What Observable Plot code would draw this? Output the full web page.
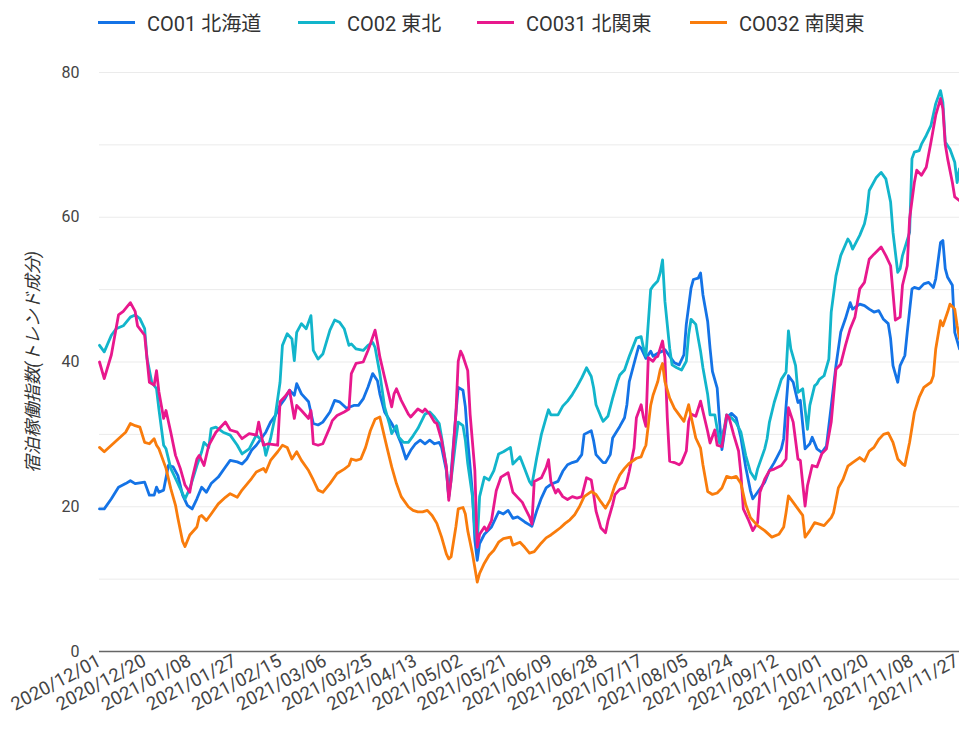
<!DOCTYPE html>
<html><head><meta charset="utf-8">
<script src="https://cdn.jsdelivr.net/npm/d3@7"></script>
<script src="https://cdn.jsdelivr.net/npm/@observablehq/plot@0.6"></script>
<style>
body{margin:0;background:#fff;font-family:Roboto,"Noto Sans CJK JP",sans-serif;}
#legend{position:relative;height:40px;width:959px;}
.item{position:absolute;top:9px;height:26px;display:flex;align-items:center;font-size:20px;color:#333;white-space:nowrap;}
.sw{width:37px;height:3px;margin-right:12px;}
#chart svg g[aria-label="y-axis label"] text{font-style:italic;fill:#333;font-size:17.5px;}
</style>
</head><body>
<div id="legend"></div>
<div id="chart"></div>
<script>
// Series names, colours
const seriesNames = ["CO01 北海道", "CO02 東北", "CO031 北関東", "CO032 南関東"];
const seriesColors = ["#1473e6", "#12b5cb", "#e8188d", "#f97c0c"];
const legendLeft = [98, 298, 477, 690];

// [days since 2020-12-01, value]
const co01 = [[0,19.7],[2,19.7],[5,21.1],[8,22.7],[11,23.2],[13,23.6],[15,23.2],[19,23.4],[21,21.6],[23,21.6],[24,22.7],[25,22.0],[27,22.3],[29,25.7],[31,25.5],[33,24.3],[35,21.6],[37,20.2],[39,19.7],[41,21.1],[43,22.7],[45,22.0],[47,23.2],[50,24.1],[53,25.5],[55,26.4],[58,26.2],[60,25.9],[62,26.6],[64,27.8],[66,28.5],[68,29.4],[70,30.3],[72,31.7],[74,32.6],[76,34.0],[78,34.9],[80,36.1],[82,35.4],[83,37.0],[85,35.6],[88,34.5],[90,31.5],[92,31.3],[94,31.7],[97,33.1],[99,34.7],[101,34.5],[104,33.6],[107,34.0],[109,34.0],[111,34.9],[113,36.5],[115,38.4],[117,37.4],[118,35.6],[120,33.1],[123,31.5],[125,30.3],[127,28.7],[129,26.6],[131,27.8],[133,28.7],[135,29.2],[137,28.7],[139,29.2],[141,28.7],[143,28.9],[144,28.2],[146,25.0],[147,21.4],[148,24.6],[150,32.8],[151,36.5],[153,36.1],[154,33.8],[155,29.2],[157,21.8],[158,15.4],[159,12.6],[160,14.9],[162,16.2],[165,17.2],[167,18.6],[168,19.3],[170,19.0],[172,19.5],[174,18.4],[176,18.6],[179,17.9],[181,17.5],[182,17.3],[184,19.4],[186,21.2],[188,22.6],[190,23.1],[193,23.5],[195,24.9],[197,25.8],[199,26.1],[201,26.3],[203,27.2],[204,30.0],[207,30.5],[208,29.1],[209,27.2],[212,26.1],[213,26.1],[215,27.2],[216,29.5],[219,31.1],[221,32.3],[222,34.1],[223,37.3],[226,41.0],[227,42.2],[228,41.9],[230,40.5],[232,41.5],[233,40.8],[235,41.2],[237,41.5],[238,41.7],[240,40.8],[242,39.9],[244,39.6],[246,41.0],[247,45.2],[249,50.2],[250,51.4],[252,51.6],[253,52.3],[254,49.3],[256,45.6],[257,41.9],[258,38.7],[260,36.4],[261,31.8],[262,27.9],[264,32.3],[266,32.9],[268,32.3],[270,29.5],[272,25.5],[274,22.2],[275,21.1],[277,22.0],[280,23.4],[282,25.0],[284,26.1],[287,28.0],[288,29.4],[289,33.9],[290,38.1],[292,37.2],[294,34.4],[295,34.7],[297,28.0],[299,28.7],[300,29.6],[302,28.0],[304,27.5],[306,28.4],[308,33.9],[310,39.5],[312,44.1],[314,46.0],[316,48.2],[317,47.3],[320,48.0],[322,47.8],[324,47.3],[326,46.9],[328,47.1],[330,45.9],[332,45.3],[333,43.2],[334,39.5],[336,37.2],[337,39.5],[339,40.9],[340,44.1],[342,50.1],[343,50.3],[345,50.1],[347,50.8],[349,51.0],[351,50.3],[352,51.5],[354,56.5],[355,56.8],[356,52.9],[357,51.7],[359,50.6],[360,44.1],[362,41.8]];

const co02 = [[0,42.3],[2,41.4],[5,43.7],[7,44.6],[10,45.0],[13,46.2],[15,46.5],[17,46.0],[19,44.6],[20,40.5],[22,37.2],[24,36.3],[25,33.5],[27,28.5],[28,28.0],[30,25.3],[32,23.9],[34,22.5],[36,21.1],[38,22.5],[41,25.7],[43,27.6],[44,28.9],[46,28.2],[47,30.8],[49,31.0],[52,30.3],[55,29.9],[58,28.5],[60,27.3],[63,28.0],[66,29.9],[69,28.9],[70,27.1],[72,29.4],[74,32.6],[76,37.2],[77,42.3],[79,43.9],[81,43.2],[82,40.2],[83,44.1],[85,45.3],[87,44.6],[89,46.4],[90,41.6],[92,40.4],[94,41.1],[97,44.4],[99,45.8],[101,45.5],[103,44.6],[105,42.3],[106,42.5],[108,41.8],[111,41.6],[113,42.3],[115,42.7],[116,42.0],[118,38.4],[120,33.8],[122,31.5],[123,30.1],[125,31.2],[126,29.6],[128,28.9],[130,28.9],[132,29.8],[134,30.8],[137,32.8],[139,33.1],[141,32.4],[143,31.5],[144,29.6],[146,25.5],[147,21.4],[148,23.7],[150,29.2],[151,31.7],[153,31.2],[154,29.2],[155,26.0],[157,21.4],[158,16.8],[159,15.0],[160,21.4],[162,24.1],[164,23.7],[166,25.0],[168,27.3],[170,27.6],[173,28.2],[174,25.9],[177,26.9],[179,25.2],[181,23.5],[182,23.0],[184,26.7],[186,30.0],[188,32.3],[189,33.4],[190,32.7],[193,32.7],[195,33.9],[197,34.6],[199,35.5],[201,36.6],[203,37.8],[205,39.2],[207,38.0],[208,36.4],[209,34.1],[211,32.5],[212,31.8],[214,32.5],[216,35.0],[218,37.3],[219,38.2],[221,38.9],[223,40.8],[226,43.3],[228,43.5],[229,41.9],[230,40.8],[232,50.0],[233,50.5],[235,51.2],[236,52.3],[237,54.1],[238,48.4],[240,41.9],[241,39.6],[243,39.2],[245,38.9],[247,40.1],[248,43.8],[249,45.9],[251,45.2],[252,43.3],[253,41.5],[254,39.2],[256,35.5],[257,32.7],[259,32.7],[261,28.8],[263,30.9],[264,32.7],[266,32.3],[268,31.6],[270,30.3],[272,27.1],[274,24.8],[276,23.8],[277,25.2],[280,28.0],[281,29.4],[282,31.7],[284,34.4],[287,37.6],[289,38.6],[290,44.3],[291,41.8],[293,39.5],[294,35.8],[296,36.3],[298,30.7],[299,34.0],[301,36.7],[302,37.0],[303,37.6],[305,38.1],[307,40.4],[308,46.9],[310,51.9],[312,54.7],[315,57.0],[316,56.5],[317,55.6],[320,57.5],[322,59.1],[323,60.7],[324,63.7],[327,65.5],[329,66.2],[331,65.3],[333,62.1],[334,57.9],[336,52.4],[337,52.9],[338,54.7],[341,57.9],[342,68.1],[343,69.0],[345,69.2],[346,70.1],[348,71.3],[350,72.7],[352,75.7],[354,77.5],[355,75.9],[356,70.4],[358,69.4],[360,67.6],[361,64.8],[362,66.7]];

const co031 = [[0,40.0],[2,37.7],[5,41.0],[8,46.5],[10,47.0],[13,48.2],[15,47.0],[16,45.0],[19,43.7],[21,37.2],[23,36.8],[24,38.8],[25,35.9],[27,32.2],[28,33.3],[30,30.3],[32,27.1],[34,25.3],[36,23.0],[38,22.0],[39,23.9],[41,26.6],[42,27.1],[44,25.7],[46,28.5],[49,30.3],[53,31.7],[55,30.6],[58,30.3],[60,29.4],[63,30.1],[66,29.9],[67,31.7],[69,28.5],[71,28.7],[75,28.5],[76,34.5],[78,35.2],[80,36.1],[82,32.2],[83,34.0],[85,33.3],[88,32.2],[89,33.3],[90,28.7],[92,28.5],[94,28.7],[97,31.0],[98,31.9],[100,32.6],[103,33.1],[105,33.5],[106,38.4],[108,39.8],[111,40.0],[113,41.6],[114,42.5],[116,44.4],[117,42.7],[118,40.7],[120,37.9],[123,33.8],[124,35.6],[125,36.3],[127,34.7],[130,32.8],[131,32.4],[134,33.5],[136,33.1],[137,33.5],[139,32.8],[141,31.7],[142,31.5],[144,29.2],[146,25.5],[147,20.9],[148,23.7],[150,32.8],[151,40.1],[152,41.5],[153,40.8],[155,38.8],[156,32.8],[158,25.0],[159,14.4],[160,16.2],[162,17.2],[163,16.7],[165,18.1],[167,22.2],[169,24.1],[172,24.7],[174,22.0],[176,21.3],[178,20.6],[179,19.9],[181,18.6],[182,17.6],[183,23.5],[186,24.0],[188,25.4],[189,26.5],[190,23.5],[192,21.9],[193,22.4],[195,21.4],[197,21.0],[199,21.4],[201,21.2],[203,21.4],[205,24.0],[207,23.7],[208,21.7],[209,19.4],[211,17.1],[213,16.4],[214,18.0],[216,20.3],[217,21.7],[219,22.4],[221,22.6],[222,23.5],[223,24.9],[225,28.1],[226,32.3],[228,34.1],[229,32.3],[230,31.1],[231,40.6],[233,40.1],[234,40.6],[235,40.8],[237,42.9],[238,40.6],[239,32.3],[240,26.3],[242,26.1],[244,25.8],[245,26.1],[247,27.7],[248,31.8],[249,32.8],[251,32.5],[253,34.6],[254,33.2],[256,30.4],[257,28.8],[259,30.6],[260,28.5],[262,28.3],[264,32.7],[265,32.3],[267,29.9],[269,27.7],[270,24.5],[271,19.7],[273,18.3],[275,16.7],[277,17.8],[278,22.0],[280,23.8],[282,25.0],[284,25.2],[287,25.7],[289,26.6],[290,33.7],[292,31.7],[294,26.6],[295,26.4],[297,20.1],[298,22.9],[300,25.7],[302,25.5],[304,27.3],[306,28.0],[308,31.7],[310,39.0],[312,39.7],[314,42.3],[316,44.6],[318,46.2],[320,50.1],[322,51.0],[324,54.2],[326,54.9],[329,55.9],[331,54.7],[333,53.3],[334,49.6],[335,45.8],[337,46.2],[338,50.6],[340,53.3],[341,59.8],[343,64.8],[344,66.5],[346,65.8],[348,66.9],[350,70.4],[352,74.1],[354,76.4],[355,75.0],[356,70.1],[357,68.1],[359,64.8],[360,62.8],[362,62.3]];

const co032 = [[0,28.2],[2,27.6],[5,28.5],[8,29.4],[11,30.3],[13,31.5],[15,31.2],[17,31.0],[19,28.9],[21,28.7],[23,29.4],[24,28.5],[25,28.0],[27,26.2],[28,25.3],[30,22.5],[32,20.2],[33,18.4],[35,15.2],[36,14.5],[38,16.1],[41,17.2],[42,18.6],[43,18.8],[45,18.1],[47,19.0],[50,20.4],[53,21.3],[55,21.8],[58,21.3],[60,22.3],[64,23.9],[66,24.8],[69,25.3],[70,24.8],[72,26.4],[75,27.6],[77,28.5],[79,28.2],[81,26.6],[83,27.6],[85,26.4],[88,25.0],[90,23.7],[92,22.3],[94,22.0],[97,23.2],[100,24.6],[103,25.2],[105,25.7],[106,26.6],[108,26.4],[110,26.6],[112,28.2],[114,30.5],[116,32.1],[118,32.4],[119,31.0],[121,28.2],[123,25.5],[125,23.2],[127,21.4],[130,20.0],[132,19.5],[134,19.3],[136,19.3],[138,19.5],[140,18.8],[142,17.7],[144,15.8],[146,13.5],[147,12.8],[148,13.1],[150,17.2],[151,19.7],[153,19.9],[154,19.0],[155,16.7],[157,13.5],[159,9.6],[160,10.8],[162,12.2],[164,13.3],[166,14.0],[168,15.1],[170,15.6],[173,15.8],[174,14.7],[177,15.1],[179,14.4],[181,13.6],[183,13.8],[186,15.0],[188,15.7],[190,16.1],[192,16.6],[194,17.1],[196,17.7],[198,18.2],[200,18.9],[202,20.0],[204,21.4],[207,22.1],[209,21.7],[211,20.7],[213,19.8],[215,21.0],[217,23.0],[219,24.4],[221,25.3],[223,26.0],[226,26.7],[228,26.9],[229,27.8],[230,28.5],[232,34.0],[233,35.4],[235,37.3],[236,38.9],[237,39.8],[238,37.3],[240,35.0],[242,33.6],[244,32.7],[246,31.8],[248,34.1],[249,32.5],[251,29.5],[253,28.1],[254,25.8],[256,22.1],[258,21.7],[260,21.9],[262,22.6],[264,24.2],[266,24.0],[268,24.2],[270,23.2],[272,20.3],[274,18.5],[277,17.4],[280,16.7],[283,15.8],[286,16.2],[288,17.2],[289,19.2],[290,21.5],[292,20.6],[294,19.7],[296,18.8],[297,15.8],[299,16.7],[301,17.8],[303,17.6],[305,17.4],[308,18.5],[309,19.2],[311,22.6],[313,23.8],[315,25.6],[317,26.1],[320,26.8],[322,26.3],[324,27.7],[326,28.2],[328,29.3],[330,30.0],[332,30.2],[334,28.9],[336,26.6],[338,25.9],[339,25.7],[341,28.9],[343,33.0],[345,35.1],[347,36.5],[350,37.2],[351,38.1],[352,41.8],[354,45.7],[355,45.0],[357,46.9],[358,48.0],[360,47.3],[361,45.0],[362,43.2]];

const seriesData = [co01, co02, co031, co032];

// Axis ticks
const yTicks = [0, 20, 40, 60, 80];
const gridTicks = [10, 20, 30, 40, 50, 60, 70, 80];
const xTickDays = [0,19,38,57,76,95,114,133,152,171,190,209,228,247,266,285,304,323,342,361];
const yLabel = "宿泊稼働指数(トレンド成分)";

const start = new Date(Date.UTC(2020, 11, 1));
const dayToDate = n => new Date(start.getTime() + n * 864e5);

const table = seriesNames.flatMap((name, i) =>
  seriesData[i].map(([d, v]) => ({series: name, date: dayToDate(d), value: v})));

// Legend
const legend = document.getElementById("legend");
seriesNames.forEach((name, i) => {
  const it = document.createElement("div");
  it.className = "item";
  it.style.left = legendLeft[i] + "px";
  const sw = document.createElement("span");
  sw.className = "sw";
  sw.style.background = seriesColors[i];
  const tx = document.createElement("span");
  tx.textContent = name;
  it.append(sw, tx);
  legend.append(it);
});

const chart = Plot.plot({
  width: 959,
  height: 693,
  marginTop: 32,
  marginLeft: 99,
  marginRight: 0,
  marginBottom: 82,
  style: {fontFamily: "Roboto, 'Noto Sans CJK JP', sans-serif", fontSize: "16px", color: "#444", background: "#fff", overflow: "visible"},
  x: {type: "utc", domain: [start, dayToDate(362)]},
  y: {domain: [0, 80]},
  color: {domain: seriesNames, range: seriesColors},
  marks: [
    Plot.gridY(gridTicks, {stroke: "#ebebeb", strokeOpacity: 1, strokeWidth: 1}),
    Plot.ruleY([0], {stroke: "#666", strokeWidth: 1.5}),
    Plot.axisY(yTicks, {tickSize: 0, tickPadding: 20, label: yLabel, labelAnchor: "center", labelArrow: "none", labelOffset: 73, fontSize: 16}),
    Plot.axisX(xTickDays.map(dayToDate), {tickSize: 0, tickRotate: -28, tickPadding: 8, tickFormat: d3.utcFormat("%Y/%m/%d"), label: null, fontSize: 18.5}),
    Plot.line(table, {x: "date", y: "value", stroke: "series", z: "series", strokeWidth: 2.8, strokeLinejoin: "round", strokeLinecap: "round"})
  ]
});
document.getElementById("chart").append(chart);
</script>
</body></html>
